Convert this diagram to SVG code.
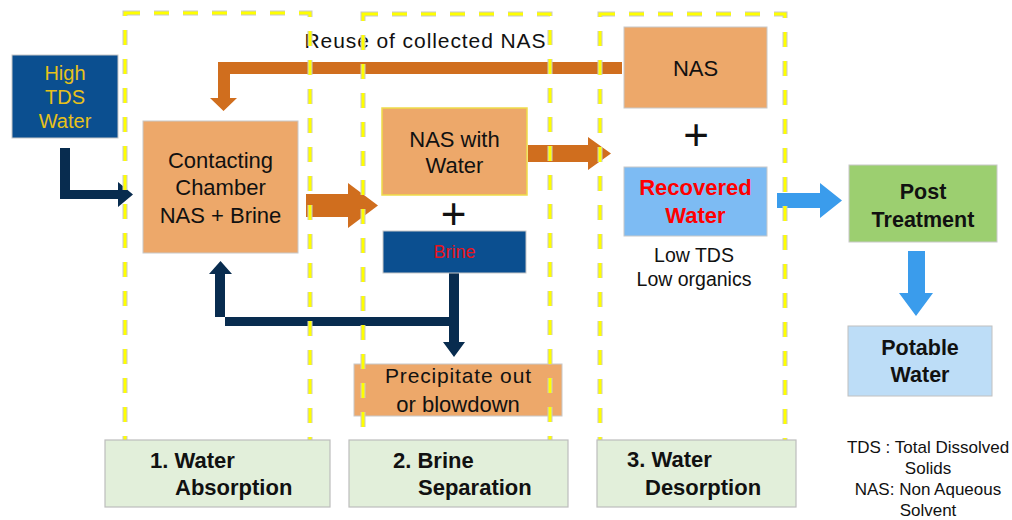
<svg xmlns="http://www.w3.org/2000/svg" width="1012" height="520" viewBox="0 0 1012 520">
<style>
text{font-family:"Liberation Sans",Arial,sans-serif;text-anchor:middle}
.orange{fill:#EDA86A;stroke:#C8C8C8;stroke-width:1}
.dkblue{fill:#0B4F90;stroke:#C8C8C8;stroke-width:1}
.lbl{fill:#E2EFDA;stroke:#BDBDBD;stroke-width:1.2}
.t22{font-size:22px;fill:#111}
.b22{font-size:21.5px;font-weight:bold;fill:#111}
.lt{font-size:22px;font-weight:bold;fill:#111;text-anchor:start}
.dashg{fill:none;stroke:#C8C8C8;stroke-width:5;stroke-dasharray:15 14}
.dashy{fill:none;stroke:#FFFF00;stroke-width:3;stroke-dasharray:15 14}
.aOr{fill:#D06E1E}
.aNv{fill:#082C4F}
.aBl{fill:#3A9CEC}
</style>
<rect width="1012" height="520" fill="#FFFFFF"/>

<g id="connectors">
<path class="aNv" d="M60,148 L70,148 L70,190 L118,190 L118,182 L133,194.5 L118,207 L118,199 L60,199 Z"/>
<path class="aOr" d="M622,62 L622,74 L230,74 L230,98 L237,98 L223.5,111 L210,98 L218,98 L218,62 Z"/>
<path class="aOr" d="M306,194 L348,194 L348,183 L378,205.5 L348,228 L348,217 L306,217 Z"/>
<path class="aOr" d="M528,145 L588,145 L588,137 L611,153.5 L588,170 L588,162 L528,162 Z"/>
<path class="aNv" d="M449,273 L459,273 L459,342 L465,342 L454,357 L443,342 L449,342 L449,326 L225,326 L225,274 L232,274 L220.5,261 L209,274 L215,274 L215,317 L449,317 Z"/>
<path class="aBl" d="M777,193 L820,193 L820,183 L842,200.5 L820,218 L820,208 L777,208 Z"/>
<path class="aBl" d="M908,251 L925,251 L925,293 L933,293 L916,316 L899,293 L908,293 Z"/>
<text x="425" y="48" font-size="21" fill="#111" textLength="241" lengthAdjust="spacing">Reuse of collected NAS</text>
</g>

<g id="high-tds-water">
<rect class="dkblue" x="12" y="55" width="106" height="83"/>
<text x="65" y="80" font-size="20" fill="#E8C11A">High</text>
<text x="65" y="104" font-size="20" fill="#E8C11A">TDS</text>
<text x="65" y="128" font-size="20" fill="#E8C11A">Water</text>
</g>

<g id="contacting-chamber">
<rect class="orange" x="143" y="121" width="155" height="132"/>
<text class="t22" x="220.5" y="168">Contacting</text>
<text class="t22" x="220.5" y="195">Chamber</text>
<text class="t22" x="220.5" y="223">NAS + Brine</text>
</g>

<g id="nas-with-water">
<rect x="382" y="108" width="145" height="87" fill="#EDA86A" stroke="#EEDC4A" stroke-width="1.5"/>
<text class="t22" x="454.5" y="147">NAS with</text>
<text class="t22" x="454.5" y="173">Water</text>
</g>

<g id="plus-1">
<text x="453.5" y="229" font-size="44" fill="#111">+</text>
</g>

<g id="brine">
<rect class="dkblue" x="383" y="231" width="143" height="42"/>
<text x="454.5" y="258" font-size="18" fill="#E8141C">Brine</text>
</g>

<g id="precipitate">
<rect class="orange" x="354" y="364" width="208" height="52"/>
<text x="458" y="383" font-size="21" fill="#111" textLength="146" lengthAdjust="spacing">Precipitate out</text>
<text class="t22" x="458" y="412">or blowdown</text>
</g>

<g id="nas">
<rect class="orange" x="624" y="27" width="143" height="81"/>
<text class="t22" x="695.5" y="76">NAS</text>
</g>

<g id="plus-2">
<text x="696" y="150" font-size="44" fill="#111">+</text>
</g>

<g id="recovered-water">
<rect x="624" y="167" width="143" height="69" fill="#7DBBF3" stroke="#C8C8C8" stroke-width="1"/>
<text x="695.5" y="195" font-size="22" font-weight="bold" fill="#FF0000">Recovered</text>
<text x="695.5" y="223" font-size="22" font-weight="bold" fill="#FF0000">Water</text>
<text x="694" y="262" font-size="19.5" fill="#111">Low TDS</text>
<text x="694" y="286" font-size="19.5" fill="#111">Low organics</text>
</g>

<g id="post-treatment">
<rect x="849" y="165" width="148" height="77" fill="#9CCF70" stroke="#C8C8C8" stroke-width="1"/>
<text class="b22" x="923" y="199">Post</text>
<text class="b22" x="923" y="227">Treatment</text>
</g>

<g id="potable-water">
<rect x="848" y="326" width="144" height="70" fill="#BDDDF7" stroke="#C0C0C0" stroke-width="1"/>
<text class="b22" x="920" y="355">Potable</text>
<text class="b22" x="920" y="382">Water</text>
</g>

<g id="legend">
<text x="928" y="453" font-size="17" fill="#111">TDS : Total Dissolved</text>
<text x="928" y="474" font-size="17" fill="#111">Solids</text>
<text x="928" y="495" font-size="17" fill="#111">NAS: Non Aqueous</text>
<text x="928" y="516" font-size="17" fill="#111">Solvent</text>
</g>

<g id="stage-frames">
<rect class="dashg" x="125" y="13" width="185" height="440"/>
<rect class="dashy" x="125" y="13" width="185" height="440"/>
<rect class="dashg" x="363" y="14" width="187" height="440"/>
<rect class="dashy" x="363" y="14" width="187" height="440"/>
<rect class="dashg" x="600" y="14" width="185" height="440"/>
<rect class="dashy" x="600" y="14" width="185" height="440"/>
</g>

<g id="stage-1">
<rect class="lbl" x="105" y="440" width="225" height="67"/>
<text class="lt" x="150" y="468">1. Water</text>
<text class="lt" x="175" y="495">Absorption</text>
</g>

<g id="stage-2">
<rect class="lbl" x="349" y="440" width="219" height="67"/>
<text class="lt" x="393" y="468">2. Brine</text>
<text class="lt" x="418" y="495">Separation</text>
</g>

<g id="stage-3">
<rect class="lbl" x="597" y="440" width="199" height="67"/>
<text class="lt" x="627" y="467">3. Water</text>
<text class="lt" x="645" y="495">Desorption</text>
</g>
</svg>
